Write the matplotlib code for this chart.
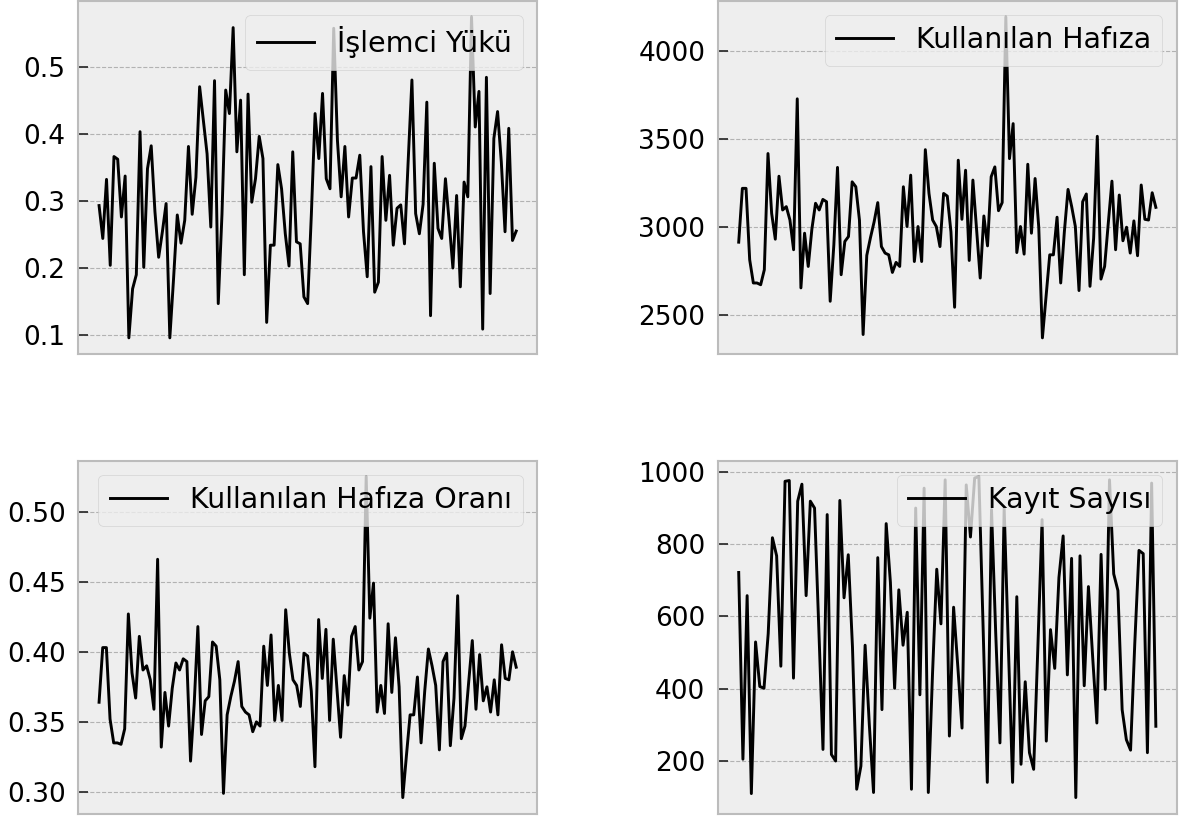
import matplotlib
matplotlib.use("Agg")
import matplotlib.pyplot as plt

# İşlemci Yükü
islemci = [0.293, 0.244, 0.332, 0.204, 0.366, 0.362, 0.276, 0.337, 0.096, 0.169,
           0.190, 0.403, 0.201, 0.348, 0.382, 0.284, 0.216, 0.254, 0.296, 0.096,
           0.184, 0.279, 0.237, 0.271, 0.381, 0.280, 0.335, 0.470, 0.420, 0.370,
           0.261, 0.479, 0.147, 0.280, 0.465, 0.430, 0.558, 0.373, 0.450, 0.190,
           0.459, 0.298, 0.333, 0.396, 0.363, 0.119, 0.234, 0.234, 0.354, 0.318,
           0.251, 0.203, 0.373, 0.239, 0.236, 0.157, 0.147, 0.280, 0.430, 0.363,
           0.460, 0.333, 0.318, 0.557, 0.390, 0.306, 0.381, 0.276, 0.334, 0.334,
           0.368, 0.254, 0.187, 0.351, 0.164, 0.179, 0.366, 0.271, 0.338, 0.234,
           0.289, 0.294, 0.236, 0.360, 0.480, 0.281, 0.251, 0.295, 0.447, 0.129,
           0.356, 0.259, 0.244, 0.333, 0.269, 0.200, 0.308, 0.172, 0.328, 0.306,
           0.574, 0.410, 0.463, 0.109, 0.484, 0.162, 0.393, 0.433, 0.358, 0.254,
           0.408, 0.241, 0.255]

# Kullanılan Hafıza
hafiza = [2915, 3221, 3221, 2815, 2683, 2683, 2673, 2758, 3419, 3079,
          2932, 3290, 3098, 3117, 3041, 2872, 3730, 2655, 2966, 2777,
          2990, 3136, 3098, 3158, 3145, 2579, 2900, 3340, 2730, 2919,
          2947, 3258, 3230, 3040, 2390, 2840, 2940, 3030, 3140, 2890,
          2853, 2843, 2743, 2800, 2777, 3230, 3004, 3296, 2805, 3004,
          2805, 3441, 3192, 3041, 3004, 2890, 3192, 3177, 2974, 2545,
          3381, 3045, 3324, 2811, 3268, 2990, 2711, 3064, 2894, 3287,
          3343, 3094, 3140, 4196, 3390, 3589, 2856, 3004, 2847, 3358,
          2966, 3277, 3000, 2371, 2607, 2843, 2843, 3057, 2683, 2975,
          3215, 3117, 3004, 2640, 3145, 3189, 2664, 2938, 3517, 2705,
          2777, 3023, 3262, 2872, 3183, 2923, 3000, 2853, 3036, 2838,
          3240, 3045, 3041, 3196, 3113]

# Kullanılan Hafıza Oranı
oran = [0.364, 0.403, 0.403, 0.352, 0.335, 0.335, 0.334, 0.345, 0.427, 0.385,
        0.367, 0.411, 0.387, 0.390, 0.380, 0.359, 0.466, 0.332, 0.371, 0.347,
        0.374, 0.392, 0.387, 0.395, 0.393, 0.322, 0.363, 0.418, 0.341, 0.365,
        0.368, 0.407, 0.404, 0.380, 0.299, 0.355, 0.368, 0.379, 0.393, 0.361,
        0.357, 0.355, 0.343, 0.350, 0.347, 0.404, 0.376, 0.412, 0.351, 0.376,
        0.351, 0.430, 0.399, 0.380, 0.376, 0.361, 0.399, 0.397, 0.372, 0.318,
        0.423, 0.381, 0.416, 0.351, 0.409, 0.374, 0.339, 0.383, 0.362, 0.411,
        0.418, 0.387, 0.393, 0.525, 0.424, 0.449, 0.357, 0.376, 0.356, 0.420,
        0.371, 0.410, 0.375, 0.296, 0.326, 0.355, 0.355, 0.382, 0.335, 0.372,
        0.402, 0.390, 0.376, 0.330, 0.393, 0.399, 0.333, 0.367, 0.440, 0.338,
        0.347, 0.378, 0.408, 0.359, 0.398, 0.365, 0.375, 0.357, 0.380, 0.355,
        0.405, 0.381, 0.380, 0.400, 0.389]

# Kayıt Sayısı
kayit = [721, 205, 657, 110, 529, 406, 401, 552, 817, 767,
         462, 973, 975, 429, 918, 965, 657, 918, 899, 570,
         232, 881, 218, 200, 920, 651, 770, 515, 122, 186,
         520, 300, 113, 762, 342, 856, 694, 401, 673, 520,
         611, 122, 899, 383, 954, 113, 442, 730, 579, 977,
         269, 625, 461, 291, 963, 819, 982, 986, 570, 141,
         895, 552, 250, 899, 515, 141, 654, 191, 419, 223,
         177, 515, 867, 255, 563, 456, 707, 822, 438, 760,
         99, 767, 408, 682, 488, 305, 771, 398, 977, 717,
         671, 342, 259, 230, 525, 782, 773, 223, 968, 296]

seriler = [islemci, hafiza, oran, kayit]
etiketler = ["İşlemci Yükü", "Kullanılan Hafıza",
             "Kullanılan Hafıza Oranı", "Kayıt Sayısı"]

plt.style.use("bmh")
plt.rcParams["axes.edgecolor"] = "#bcbcbc"
plt.rcParams["axes.linewidth"] = 1.5

fig, axs = plt.subplots(2, 2, figsize=(11.85, 8.21), dpi=100)
plt.subplots_adjust(left=0.066, right=0.993, top=0.999, bottom=0.009,
                    wspace=0.394, hspace=0.302)

for ax, veri, etiket in zip(axs.flat, seriler, etiketler):
    ax.plot(range(len(veri)), veri, color="black", linewidth=2.1, label=etiket)
    ax.set_xticks([])
    ax.grid(True, axis="y", color="#b2b2b2", linestyle="--", linewidth=0.8)
    ax.tick_params(axis="y", direction="in", length=7, width=1.3,
                   color="#333333", labelsize=19, pad=9)
    ax.legend(loc="upper right", fontsize=20.5)

plt.savefig("out.png", dpi=100)
